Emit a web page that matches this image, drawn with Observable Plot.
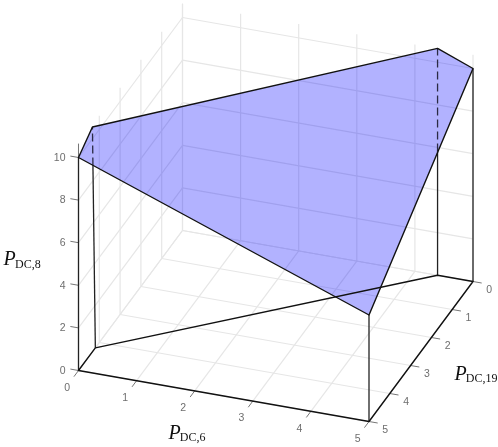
<!DOCTYPE html>
<html>
<head>
<meta charset="utf-8">
<script src="https://cdn.jsdelivr.net/npm/d3@7"></script>
<script src="https://cdn.jsdelivr.net/npm/@observablehq/plot@0.6"></script>
<style>
html,body{margin:0;padding:0;background:#fff}
svg{display:block;filter:blur(0.3px)}
</style>
</head>
<body>
<div id="chart"></div>
<script>
// Chart values: [P_DC,6, P_DC,19, P_DC,8]
const p6Ticks = [0, 1, 2, 3, 4, 5];
const p19Ticks = [0, 1, 2, 3, 4, 5];
const p8Ticks = [0, 2, 4, 6, 8, 10];
const p8Top = 10.65;

const faceVertices = [
  [0, 5, 10],
  [0, 4.33, 10.55],
  [4.39, 0, 10.65],
  [5, 0, 10],
  [5, 5, 5]
];
const baseVertices = [
  [0, 5, 0],
  [0, 4.19, 0],
  [4.39, 0, 0],
  [5, 0, 0],
  [5, 5, 0]
];
// Vertical edges: base point, point where the edge passes behind the face, top point
const solidEdges = [
  [[0, 5, 0], [0, 5, 10]],
  [[0, 4.19, 0], [0, 4.306, 8.71]],
  [[4.39, 0, 0], [4.39, 0, 5.81]],
  [[5, 0, 0], [5, 0, 10]],
  [[5, 5, 0], [5, 5, 5]]
];
const hiddenEdges = [
  [[0, 4.306, 8.71], [0, 4.33, 10.55]],
  [[4.39, 0, 5.81], [4.39, 0, 10.65]]
];
const axisLabels = [
  {text: "PDC,6", at: [2.139, 6.65, 0]},
  {text: "PDC,19", at: [5.826, 3.2, 0]},
  {text: "PDC,8", at: [0, 8.6, 9.7]}
];

// Oblique projection of the three value axes onto the picture plane
const project = ([a, b, c]) => [
  182 + 58.1 * a - 20.8 * b,
  230 + 10.2 * a + 28 * b - 21.3 * c
];
const px = d => project(d)[0];
const py = d => project(d)[1];

const add = (list, a, b) => list.push({a, b});
const grid = [], ticks = [], axes = [];
for (const t of p6Ticks) {
  add(grid, [t, 0, 0], [t, 5, 0]);
  add(grid, [t, 0, 0], [t, 0, p8Top]);
  add(ticks, [t, 5, 0], [t, 5.22, 0]);
}
for (const t of p19Ticks) {
  add(grid, [0, t, 0], [5, t, 0]);
  add(grid, [0, t, 0], [0, t, p8Top]);
  add(ticks, [5, t, 0], [5.15, t, 0]);
}
for (const t of p8Ticks) {
  add(grid, [0, 0, t], [5, 0, t]);
  add(grid, [0, 0, t], [0, 5, t]);
  add(ticks, [0, 5, t], [-0.14, 5, t]);
}
add(axes, [0, 5, 0], [0, 5, p8Top]);
const edgeLinks = list => list.map(([a, b]) => ({a, b}));
const closed = v => [...v, v[0]];
const link = (data, o) => Plot.link(data, {
  x1: d => px(d.a), y1: d => py(d.a), x2: d => px(d.b), y2: d => py(d.b), ...o
});
const tickFont = {fontFamily: "Liberation Sans, Arial, sans-serif", fontSize: 10.5, fill: "#6e6e6e"};

const chart = Plot.plot({
  width: 498,
  height: 447,
  margin: 0,
  x: {domain: [0, 498], range: [0, 498], axis: null},
  y: {domain: [0, 447], range: [0, 447], axis: null},
  marks: [
    link(grid, {stroke: "#e6e6e6", strokeWidth: 1.2}),
    Plot.line(faceVertices, {x: px, y: py, fill: "#0000ff", fillOpacity: 0.3, stroke: "none"}),
    link(axes, {stroke: "#777", strokeWidth: 1}),
    link(ticks, {stroke: "#777", strokeWidth: 1}),
    link(edgeLinks(solidEdges), {stroke: "#222", strokeWidth: 1.3}),
    link(edgeLinks(hiddenEdges), {stroke: "#2a2a44", strokeWidth: 1.3, strokeDasharray: "8,4"}),
    Plot.line(closed(baseVertices), {x: px, y: py, stroke: "#111", strokeWidth: 1.4}),
    Plot.line(closed(faceVertices), {x: px, y: py, stroke: "#111", strokeWidth: 1.4}),
    Plot.text(p8Ticks, {x: d => px([0, 5, d]), y: d => py([0, 5, d]), text: d => String(d), dx: -13, textAnchor: "end", ...tickFont}),
    Plot.text(p6Ticks, {x: d => px([d, 5.55, 0]), y: d => py([d, 5.55, 0]), text: d => String(d), dy: 1.6, ...tickFont}),
    Plot.text(p19Ticks, {x: d => px([5.28, d, 0]), y: d => py([5.28, d, 0]), text: d => String(d), dy: 5, ...tickFont}),
    Plot.text(axisLabels, {
      x: d => px(d.at), y: d => py(d.at), text: d => d.text,
      textAnchor: "start", lineAnchor: "bottom",
      fontFamily: "Liberation Serif, Times New Roman, serif", fontSize: 20, fill: "#111",
      className: "axis-label"
    })
  ]
});
document.getElementById("chart").append(chart);

// Axis titles: italic P with an upright subscript
d3.select(chart).selectAll(".axis-label text").each(function () {
  const t = d3.select(this), s = t.text();
  t.text(null);
  t.append("tspan").attr("font-style", "italic").text(s[0]);
  t.append("tspan").attr("font-size", 12).attr("dx", -0.8).attr("dy", 2.8).text(s.slice(1));
});
</script>
</body>
</html>
